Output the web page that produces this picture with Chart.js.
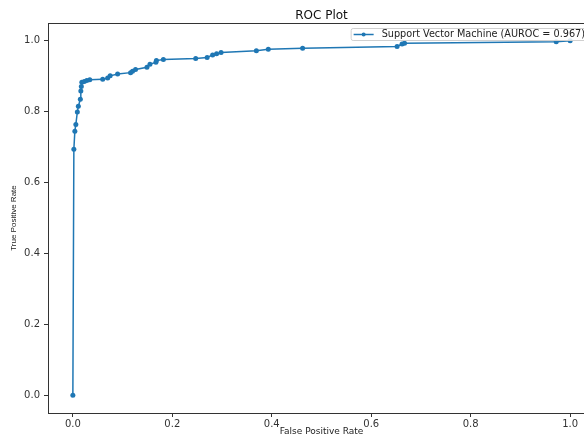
<!DOCTYPE html>
<html>
<head>
<meta charset="utf-8">
<script src="https://cdn.jsdelivr.net/npm/chart.js@4"></script>
<style>
  html, body { margin: 0; padding: 0; background: #fff; overflow: hidden; }
  #wrap { position: absolute; left: 0; top: 0; width: 600px; height: 436px; }
</style>
</head>
<body>
<div id="wrap"><canvas id="chart" width="600" height="436"></canvas></div>
<script>
// ROC curve points
var fpr = [0, 0.002, 0.004, 0.006, 0.009, 0.011, 0.015, 0.016, 0.017, 0.018, 0.023, 0.028, 0.034,
  0.060, 0.070, 0.075, 0.090, 0.116, 0.120, 0.126, 0.149, 0.155, 0.167, 0.168, 0.182,
  0.247, 0.270, 0.281, 0.289, 0.298, 0.369, 0.393, 0.462, 0.652, 0.662, 0.667, 0.972, 1.0]
var tpr = [0, 0.694, 0.745, 0.764, 0.799, 0.815, 0.835, 0.858, 0.871, 0.883, 0.885, 0.888, 0.890,
  0.891, 0.895, 0.901, 0.906, 0.910, 0.914, 0.919, 0.925, 0.934, 0.939, 0.944, 0.947,
  0.950, 0.953, 0.960, 0.963, 0.967, 0.972, 0.976, 0.979, 0.984, 0.991, 0.993, 0.997, 1.0]
var modelName = 'Support Vector Machine'
var auroc = 0.967
var xTicks = [0, 0.2, 0.4, 0.6, 0.8, 1.0]
var yTicks = [0, 0.2, 0.4, 0.6, 0.8, 1.0]

var blue = '#1f77b4'
var tickFont = { family: 'DejaVu Sans', size: 10 }

var points = fpr.map(function (x, i) { return { x: x, y: tpr[i] } })

// matplotlib style frame + legend inside the axes
var framePlugin = {
  id: 'frame',
  afterDraw: function (chart) {
    var ctx = chart.ctx
    var a = chart.chartArea
    ctx.save()
    ctx.strokeStyle = '#333'
    ctx.lineWidth = 1
    ctx.strokeRect(Math.round(a.left) + 0.5, Math.round(a.top) + 0.5,
      Math.round(a.right - a.left), Math.round(a.bottom - a.top))

    var ds = chart.data.datasets[0]
    ctx.font = '9.7px "DejaVu Sans"'
    var w = ctx.measureText(ds.label).width
    var boxRight = a.right - 4
    var textX = boxRight - 6 - w
    var boxLeft = textX - 31
    var boxTop = a.top + 5
    var boxH = 12
    ctx.fillStyle = 'rgba(255,255,255,0.85)'
    ctx.strokeStyle = '#d0d0d0'
    ctx.beginPath()
    ctx.roundRect(boxLeft + 0.5, boxTop + 0.5, boxRight - boxLeft, boxH, 2)
    ctx.fill()
    ctx.stroke()
    var cy = boxTop + boxH / 2 + 0.5
    ctx.strokeStyle = blue
    ctx.lineWidth = 1.5
    ctx.beginPath()
    ctx.moveTo(textX - 28, cy)
    ctx.lineTo(textX - 8, cy)
    ctx.stroke()
    ctx.fillStyle = blue
    ctx.beginPath()
    ctx.arc(textX - 18, cy, 2, 0, Math.PI * 2)
    ctx.fill()
    ctx.fillStyle = '#222'
    ctx.textBaseline = 'middle'
    ctx.fillText(ds.label, textX, cy)
    ctx.restore()
  }
}

var ctx = document.getElementById('chart').getContext('2d')

var chart = new Chart(ctx, {
  type: 'line',
  data: {
    datasets: [{
      label: modelName + ' (AUROC = ' + auroc.toFixed(3) + ')',
      data: points,
      borderColor: blue,
      backgroundColor: blue,
      borderWidth: 1.5,
      pointRadius: 2.5,
      pointBorderWidth: 0,
      pointBackgroundColor: blue,
      tension: 0,
      fill: false
    }]
  },
  options: {
    responsive: false,
    animation: false,
    devicePixelRatio: 1,
    layout: { padding: { left: 0, right: 5, top: 0, bottom: 0 } },
    plugins: {
      legend: { display: false },
      tooltip: { enabled: false },
      title: {
        display: true,
        text: 'ROC Plot',
        fullSize: false,
        color: '#111',
        font: { family: 'DejaVu Sans', size: 12, weight: 'normal', lineHeight: '14px' },
        padding: { top: 9, bottom: 0 }
      }
    },
    scales: {
      x: {
        type: 'linear',
        min: -0.05,
        max: 1.05,
        afterBuildTicks: function (s) { s.ticks = xTicks.map(function (v) { return { value: v } }) },
        afterFit: function (s) { s.height = 23 },
        grid: { drawOnChartArea: false, drawTicks: true, tickLength: 4, color: '#333' },
        border: { display: false },
        ticks: {
          font: tickFont, color: '#333', padding: 1, maxRotation: 0,
          callback: function (v) { return v.toFixed(1) }
        },
        title: {
          display: true, text: 'False Positive Rate', color: '#222',
          font: { family: 'DejaVu Sans', size: 9, lineHeight: 1 },
          padding: { top: 0, bottom: 0 }
        }
      },
      y: {
        type: 'linear',
        min: -0.05,
        max: 1.05,
        afterBuildTicks: function (s) { s.ticks = yTicks.map(function (v) { return { value: v } }) },
        afterFit: function (s) { s.width = 48 },
        grid: { drawOnChartArea: false, drawTicks: true, tickLength: 4, color: '#333' },
        border: { display: false },
        ticks: {
          font: tickFont, color: '#333', padding: 4,
          callback: function (v) { return v.toFixed(1) }
        },
        title: {
          display: true, text: 'True Positive Rate', color: '#222',
          font: { family: 'Liberation Sans', size: 8, lineHeight: 1 },
          padding: { top: 10, bottom: 0 }
        }
      }
    }
  },
  plugins: [framePlugin]
})
</script>
</body>
</html>
